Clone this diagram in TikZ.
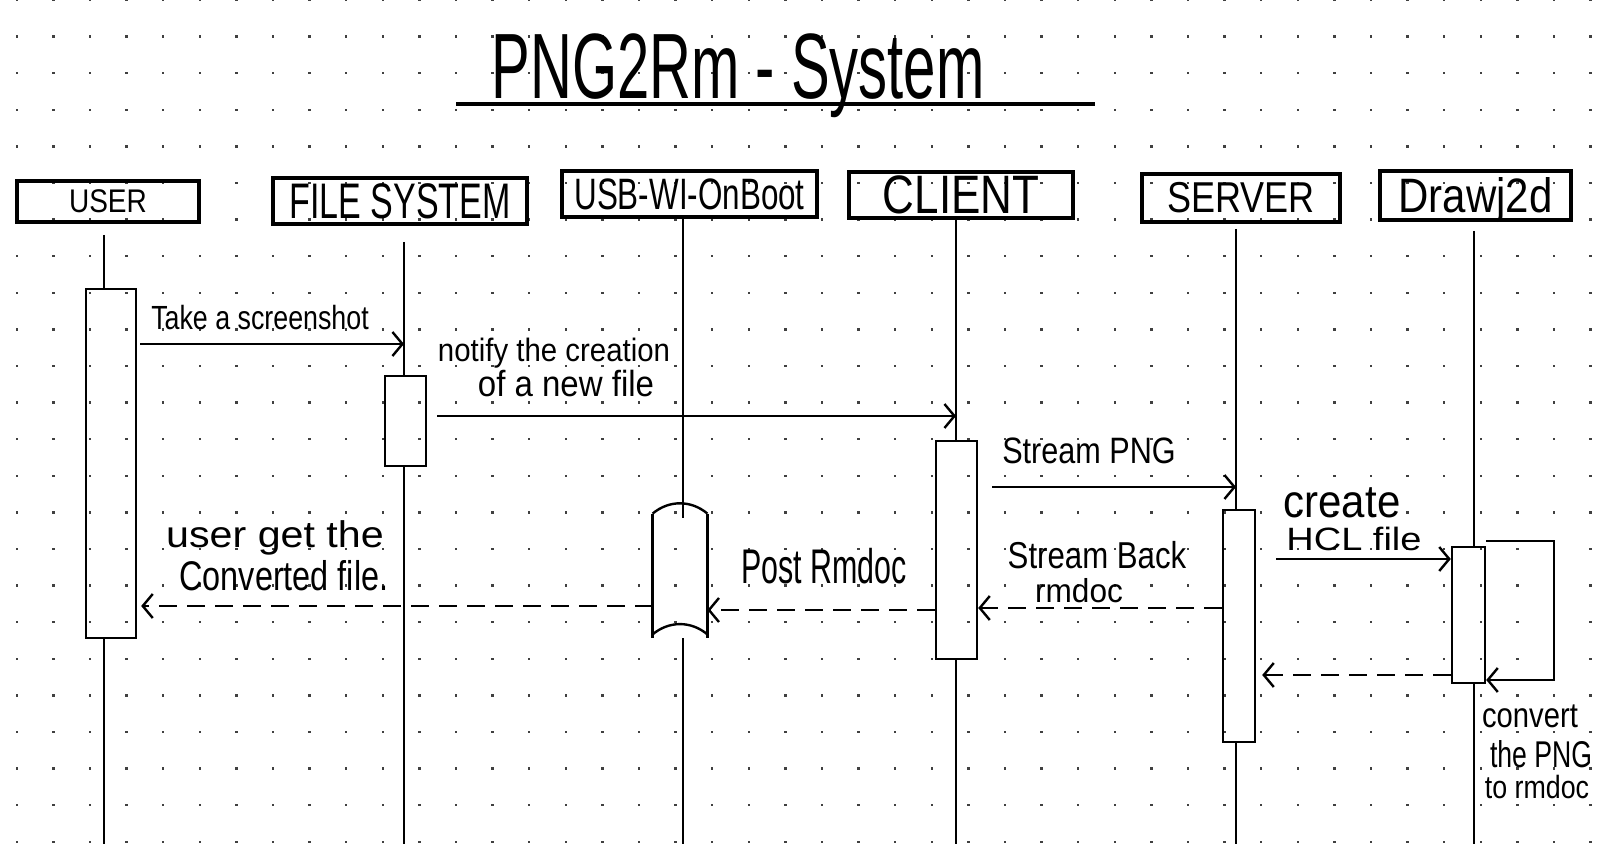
\documentclass[tikz,border=0pt]{standalone}
\usepackage{graphicx}
\usepackage{fontspec}
\setmainfont{Liberation Sans}
\usetikzlibrary{arrows.meta}
\newcommand\hw[3]{\scalebox{1}[#2]{\fontsize{#1}{#1}\selectfont #3}}
\begin{document}
\begin{tikzpicture}[x=0.5pt,y=-0.5pt,
  lifeline/.style={line width=1.1pt},
  pbox/.style={draw, line width=1.6pt, inner sep=0pt},
  actbar/.style={draw, line width=1.2pt, inner sep=0pt},
  barline/.style={line width=1.2pt},
  msg/.style={line width=1.2pt, -{Straight Barb[length=5pt,width=12pt]}},
  ret/.style={msg, dash pattern=on 9pt off 5pt},
  lbl/.style={inner sep=0pt, anchor=base},
]
\useasboundingbox (0,0) rectangle (1600,844);
\fill[white] (0,0) rectangle (1600,844);
% dot grid
\foreach \i in {0,...,43}{\foreach \j in {0,...,23}{
  \fill[black!75] (16.7+36.6*\i-1.2, 36.6*\j-1.2) rectangle ++(2.4,2.4);}}

% title
\node[lbl] (title) at (738,99) {\hw{29}{1.6}{PNG2Rm - System}};
\coordinate (ulA) at (456,104);
\coordinate (ulB) at (1095,104);
\draw[line width=1.7pt] (ulA) -- (ulB);

% participants
\node[pbox, minimum width=91pt, minimum height=20.5pt] (user) at (108,201.5) {\hw{14}{1.17}{USER}};
\node[pbox, minimum width=127pt, minimum height=23pt] (fs) at (400,201) {\hw{17}{1.47}{FILE SYSTEM}};
\node[pbox, minimum width=127.5pt, minimum height=23pt] (usb) at (689.5,194) {\hw{15.7}{1.4}{USB-WI-OnBoot}};
\node[pbox, minimum width=112pt, minimum height=23pt] (client) at (961,195) {\hw{22}{1.23}{CLIENT}};
\node[pbox, minimum width=99pt, minimum height=24pt] (server) at (1241,198) {\hw{18}{1.2}{SERVER}};
\node[pbox, minimum width=95.5pt, minimum height=24.5pt] (draw) at (1475.5,195.5) {\hw{21}{1.15}{\raisebox{0pt}[\height][0pt]{Drawj2d}}};

% activation bars
\node[actbar, minimum width=25pt, minimum height=174.5pt] (ubar) at (111,463.5) {};
\node[actbar, minimum width=20.5pt, minimum height=45pt] (fsbar) at (405.5,421) {};
\node[inner sep=0pt, minimum width=27pt, minimum height=64pt] (usbbar) at (680,574) {};
\node[actbar, minimum width=20.5pt, minimum height=109pt] (cbar) at (956.5,550) {};
\node[actbar, minimum width=16pt, minimum height=116pt] (sbar) at (1239,626) {};
\node[actbar, minimum width=16.5pt, minimum height=68pt] (dbar) at (1468.5,615) {};

% usb bar with curved ends
\draw[barline] ([yshift=-2pt]usbbar.north west) -- (usbbar.south west);
\draw[barline] ([yshift=-2pt]usbbar.north east) -- (usbbar.south east);
\draw[barline] ([yshift=-2pt]usbbar.north west) to[bend left=40] ([yshift=-2pt]usbbar.north east);
\draw[barline] ([yshift=2pt]usbbar.south west) to[bend left=40] ([yshift=2pt]usbbar.south east);

% lifelines
\coordinate (uTop) at (104,235);
\coordinate (fTop) at (404,242);
\coordinate (bTop) at (683,217);
\coordinate (cTop) at (956,218);
\coordinate (sTop) at (1236,229);
\coordinate (dTop) at (1474,231);
\draw[lifeline] (uTop) -- (uTop |- ubar.north);
\draw[lifeline] (uTop |- ubar.south) -- (uTop |- 0,844);
\draw[lifeline] (fTop) -- (fTop |- fsbar.north);
\draw[lifeline] (fTop |- fsbar.south) -- (fTop |- 0,844);
\draw[lifeline] (bTop) -- ([yshift=-4pt]bTop |- usbbar.north);
\draw[lifeline] (bTop |- usbbar.south) -- (bTop |- 0,844);
\draw[lifeline] (cTop) -- (cTop |- cbar.north);
\draw[lifeline] (cTop |- cbar.south) -- (cTop |- 0,844);
\draw[lifeline] (sTop) -- (sTop |- sbar.north);
\draw[lifeline] (sTop |- sbar.south) -- (sTop |- 0,844);
\draw[lifeline] (dTop) -- (dTop |- dbar.north);
\draw[lifeline] (dTop |- dbar.south) -- (dTop |- 0,844);

% messages
\draw[msg, shorten <=1.5pt] (ubar.east |- 0,344) -- (fTop |- 0,344);
\node[lbl] (t1) at (260,330) {\hw{13.4}{1.25}{Take a screenshot}};

\draw[msg, shorten <=5pt] (fsbar.east |- 0,416) -- (cTop |- 0,416);
\node[lbl] (t2a) at (554,362) {\hw{14.7}{1.1}{notify the creation}};
\node[lbl] (t2b) at (566,396) {\hw{16.5}{1.1}{of a new file}};

\draw[msg, shorten <=7pt] (cbar.east |- 0,487) -- (sTop |- 0,487);
\node[lbl] (t3) at (1089,463) {\hw{15.3}{1.2}{Stream PNG}};

\draw[msg, shorten <=10pt] (sbar.east |- 0,559) -- (dbar.west |- 0,559);
\node[lbl] (t4a) at (1342,517) {\hw{21}{1.1}{create}};
\node[lbl] (t4b) at (1354,550) {\hw{19}{0.85}{HCL file}};

% self call
\coordinate (loopTR) at (1554,541);
\coordinate (loopBR) at (1554,680);
\draw[msg] (dbar.east |- loopTR) -- (loopTR) -- (loopBR) -- (dbar.east |- loopBR);
\node[lbl] (t5a) at (1530,727) {\hw{14.6}{1.2}{convert}};
\node[lbl] (t5b) at (1541,767) {\hw{13.3}{1.4}{the PNG}};
\node[lbl] (t5c) at (1537,798) {\hw{13.4}{1.2}{to rmdoc}};

% returns
\draw[ret, shorten >=3pt] (dbar.west |- 0,675) -- (sbar.east |- 0,675);
\draw[ret] (sbar.west |- 0,608) -- (cbar.east |- 0,608);
\node[lbl] (t7a) at (1097,568) {\hw{15.6}{1.2}{Stream Back}};
\node[lbl] (t7b) at (1079,602) {\hw{15.8}{1.05}{rmdoc}};

\draw[ret] (cbar.west |- 0,610) -- (usbbar.east |- 0,610);
\node[lbl] (t8) at (824,583) {\hw{15.2}{1.6}{Post Rmdoc}};

\draw[ret, shorten >=2pt] (usbbar.west |- 0,606) -- (ubar.east |- 0,606);
\node[lbl] (t9a) at (275,547) {\hw{20.6}{0.9}{user get the}};
\node[lbl] (t9b) at (284,590) {\hw{16.2}{1.28}{Converted file.}};
\end{tikzpicture}
\end{document}
